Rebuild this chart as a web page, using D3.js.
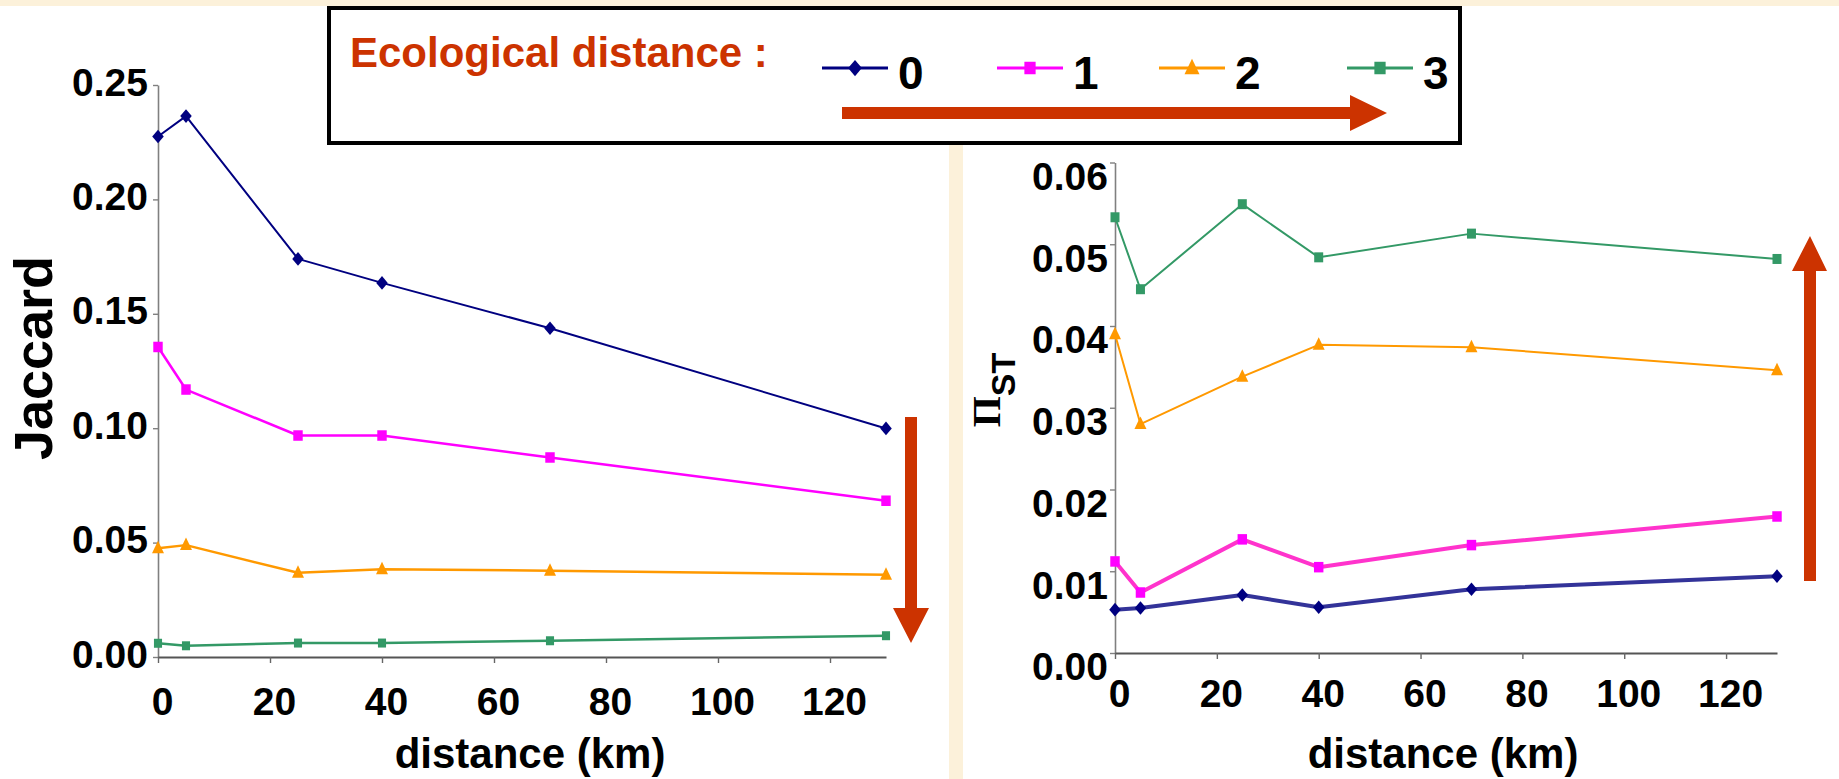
<!DOCTYPE html>
<html>
<head>
<meta charset="utf-8">
<script src="https://cdn.jsdelivr.net/npm/d3@7"></script>
<style>
  html, body { margin: 0; padding: 0; background: #fcf1da; }
  svg { display: block; }
  text { font-family: "Liberation Sans", Arial, sans-serif; font-weight: bold; }
</style>
</head>
<body>
<svg id="chart" width="1839" height="779"></svg>
<script>
// ---------- DATA ----------
const distances = [0, 5, 25, 40, 70, 130];
const seriesNames = ["0", "1", "2", "3"];

const jaccard0 = [0.2275, 0.2364, 0.1740, 0.1635, 0.1437, 0.0999];
const jaccard1 = [0.1355, 0.1169, 0.0968, 0.0968, 0.0872, 0.0683];
const jaccard2 = [0.0475, 0.0489, 0.0368, 0.0384, 0.0377, 0.0360];
const jaccard3 = [0.0060, 0.0049, 0.0061, 0.0061, 0.0071, 0.0093];

const pist0 = [0.0053, 0.0055, 0.0071, 0.0056, 0.0078, 0.0094];
const pist1 = [0.0112, 0.0074, 0.0139, 0.0105, 0.0132, 0.0167];
const pist2 = [0.0390, 0.0280, 0.0338, 0.0377, 0.0374, 0.0346];
const pist3 = [0.0533, 0.0445, 0.0549, 0.0484, 0.0513, 0.0482];

const xTicks = [0, 20, 40, 60, 80, 100, 120];
const jaccardTicks = [0, 0.05, 0.10, 0.15, 0.20, 0.25];
const pistTicks = [0, 0.01, 0.02, 0.03, 0.04, 0.05, 0.06];

// ---------- STYLE ----------
const markerColors = ["#000080", "#ff00ff", "#ff9900", "#339966"];
const markerTypes = ["diamond", "square", "triangle", "square"];
const leftLineColors = ["#000080", "#ff00ff", "#ff9900", "#339966"];
const leftLineWidths = [2, 2.5, 2.5, 2.5];
const rightLineColors = ["#333399", "#ff33cc", "#ff9900", "#339966"];
const rightLineWidths = [4, 4, 2, 2];
const arrowColor = "#cc3300";
const tickFont = 39;

const svg = d3.select("#chart");

// background panels
svg.append("rect").attr("x", 0).attr("y", 0).attr("width", 1839).attr("height", 779).attr("fill", "#fcf1da");
svg.append("rect").attr("x", 0).attr("y", 6).attr("width", 949).attr("height", 773).attr("fill", "#ffffff");
svg.append("rect").attr("x", 963).attr("y", 6).attr("width", 876).attr("height", 773).attr("fill", "#ffffff");

function markerPath(type, s) {
  if (type === "diamond") return `M0,${-6.5*s}L${5.5*s},0L0,${6.5*s}L${-5.5*s},0Z`;
  if (type === "square") return `M${-4.5*s},${-5*s}H${4.5*s}V${5*s}H${-4.5*s}Z`;
  if (type === "triangle") return `M0,${-7.5*s}L${6*s},${5*s}L${-6*s},${5*s}Z`;
}

function drawPanel(cfg) {
  const x = d3.scaleLinear().domain([0, 130]).range(cfg.xRange);
  const y = d3.scaleLinear().domain(cfg.yDomain).range(cfg.yRange);
  const g = svg.append("g");

  // y axis
  const ya = g.append("g").attr("transform", `translate(${cfg.xRange[0]},0)`)
    .call(d3.axisLeft(y).tickValues(cfg.yTicks).tickFormat(d3.format(".2f"))
      .tickSize(5).tickSizeOuter(0).tickPadding(cfg.yPad));
  ya.select(".domain").attr("stroke", "#808080").attr("stroke-width", 1.6);
  ya.selectAll(".tick line").attr("stroke", "#808080").attr("stroke-width", 1.4);
  ya.selectAll(".tick text").attr("font-size", tickFont).attr("fill", "#000")
    .attr("font-family", "Liberation Sans, Arial, sans-serif").attr("font-weight", "bold")
    .attr("dy", cfg.yDy);

  // x axis
  const xa = g.append("g").attr("transform", `translate(0,${cfg.yRange[0]})`)
    .call(d3.axisBottom(x).tickValues(xTicks).tickFormat(d3.format("d"))
      .tickSize(6).tickSizeOuter(0).tickPadding(cfg.xPad));
  xa.select(".domain").attr("stroke", "#555").attr("stroke-width", 2.2);
  xa.selectAll(".tick line").attr("stroke", "#666").attr("stroke-width", 1.4);
  xa.selectAll(".tick text").attr("font-size", tickFont).attr("fill", "#000")
    .attr("font-family", "Liberation Sans, Arial, sans-serif").attr("font-weight", "bold")
    .attr("dx", 4);

  // lines
  const line = d3.line().x((d, i) => x(distances[i])).y(d => y(d));
  cfg.series.forEach((vals, si) => {
    g.append("path").datum(vals).attr("d", line).attr("fill", "none")
      .attr("stroke", cfg.lineColors[si]).attr("stroke-width", cfg.lineWidths[si])
      .attr("stroke-linejoin", "round");
  });
  cfg.series.forEach((vals, si) => {
    g.selectAll(null).data(vals).enter().append("path")
      .attr("transform", (d, i) => `translate(${x(distances[i])},${y(d)})`)
      .attr("d", markerPath(markerTypes[si], cfg.markerScale[si]))
      .attr("fill", markerColors[si]);
  });

  // x label
  g.append("text").attr("x", cfg.xLabelX).attr("y", 768).attr("text-anchor", "middle")
    .attr("font-size", 42).attr("fill", "#000").text("distance (km)");
  return { x, y, g };
}

// Left panel: Jaccard
drawPanel({
  xRange: [158, 886], yRange: [657, 85], yDomain: [0, 0.25],
  yTicks: jaccardTicks, yPad: 5, yDy: "0.26em", xPad: 24,
  series: [jaccard0, jaccard1, jaccard2, jaccard3],
  lineColors: leftLineColors, lineWidths: leftLineWidths,
  markerScale: [1.05, 1.05, 1.0, 0.9],
  xLabelX: 530
});
svg.append("text").attr("transform", "translate(52,358) rotate(-90)")
  .attr("text-anchor", "middle").attr("font-size", 54).attr("fill", "#000").text("Jaccard");

// Right panel: PiST
drawPanel({
  xRange: [1115, 1777], yRange: [653, 162.5], yDomain: [0, 0.06],
  yTicks: pistTicks, yPad: 2, yDy: "0.69em", xPad: 20,
  series: [pist0, pist1, pist2, pist3],
  lineColors: rightLineColors, lineWidths: rightLineWidths,
  markerScale: [1.05, 1.05, 1.0, 1.0],
  xLabelX: 1443
});
const pl = svg.append("text").attr("transform", "translate(1000,390) rotate(-90)")
  .attr("text-anchor", "middle").attr("fill", "#000");
pl.append("tspan").attr("font-family", "Liberation Serif, Times New Roman, serif")
  .attr("font-weight", "bold").attr("font-size", 40).text("Π");
pl.append("tspan").attr("font-size", 34).attr("dy", 15).text("ST");

// Arrows
function arrow(points) {
  svg.append("polygon").attr("points", points.map(p => p.join(",")).join(" ")).attr("fill", arrowColor);
}
// left down arrow
arrow([[905, 417], [917, 417], [917, 608], [929, 608], [911, 643], [893, 608], [905, 608]]);
// right up arrow
arrow([[1804, 581], [1816, 581], [1816, 271], [1827, 271], [1810, 236], [1792, 271], [1804, 271]]);

// Legend box
svg.append("rect").attr("x", 329).attr("y", 8).attr("width", 1131).attr("height", 135)
  .attr("fill", "#fff").attr("stroke", "#000").attr("stroke-width", 4);
svg.append("text").attr("x", 350).attr("y", 67).attr("font-size", 42).attr("fill", arrowColor)
  .text("Ecological distance :");
const legendX = [855, 1030, 1192, 1380];
seriesNames.forEach((nm, i) => {
  const cx = legendX[i];
  svg.append("line").attr("x1", cx - 33).attr("x2", cx + 33).attr("y1", 68).attr("y2", 68)
    .attr("stroke", leftLineColors[i]).attr("stroke-width", 3);
  svg.append("path").attr("transform", `translate(${cx},68)`)
    .attr("d", markerPath(markerTypes[i], 1.25)).attr("fill", markerColors[i]);
  svg.append("text").attr("x", cx + 43).attr("y", 89).attr("font-size", 46).attr("fill", "#000").text(nm);
});
// legend arrow
arrow([[842, 107], [1350, 107], [1350, 95], [1387, 113], [1350, 131], [1350, 119], [842, 119]]);
</script>
</body>
</html>
